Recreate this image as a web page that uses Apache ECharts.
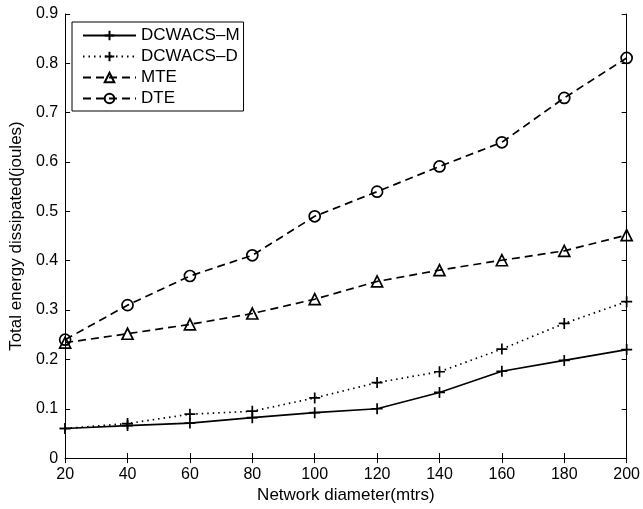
<!DOCTYPE html>
<html><head><meta charset="utf-8">
<script src="https://cdn.jsdelivr.net/npm/echarts@6/dist/echarts.min.js"></script>
<style>html,body{margin:0;padding:0;background:#fff}#c{width:643px;height:509px}</style>
</head><body><div id="c"></div>
<script>
const diameters = [20, 40, 60, 80, 100, 120, 140, 160, 180, 200];
const dcwacsM = [0.060, 0.066, 0.071, 0.082, 0.092, 0.100, 0.133, 0.176, 0.198, 0.220];
const dcwacsD = [0.060, 0.070, 0.089, 0.095, 0.122, 0.153, 0.175, 0.221, 0.273, 0.317];
const mte     = [0.234, 0.252, 0.271, 0.293, 0.322, 0.358, 0.381, 0.401, 0.420, 0.452];
const dte     = [0.240, 0.310, 0.369, 0.411, 0.490, 0.540, 0.591, 0.640, 0.730, 0.811];
const seriesNames = ['DCWACS\u2013M', 'DCWACS\u2013D', 'MTE', 'DTE'];
const xTitle = 'Network diameter(mtrs)';
const yTitle = 'Total energy dissipated(joules)';

const font = 'Liberation Sans, Arial, Helvetica, sans-serif';
const pair = arr => diameters.map((d, i) => [d, arr[i]]);
const plus = 'path://M5,0 L5,10 M0,5 L10,5';
function mk(name, data, type, symbol, size) {
  return {
    name, type: 'line', data: pair(data), symbol, symbolSize: size,
    lineStyle: { color: '#000', width: 1.7, type: type === 'dotted' ? [1.5, 4] : (type === 'dashed' ? [8, 5] : 'solid') },
    itemStyle: { color: 'rgba(0,0,0,0)', borderColor: '#000', borderWidth: 1.7 },
    emphasis: { disabled: true }, animation: false, z: 3
  };
}
const chart = echarts.init(document.getElementById('c'), null, { renderer: 'canvas' });
const axisCommon = {
  type: 'value',
  axisLine: { show: true, lineStyle: { color: '#000', width: 1 } },
  axisTick: { show: true, inside: true, length: 5, lineStyle: { color: '#000' } },
  splitLine: { show: false },
  axisLabel: { color: '#000', fontSize: 16, fontFamily: font }
};
chart.setOption({
  backgroundColor: '#fff',
  animation: false,
  grid: { left: 64, right: 15, top: 14, bottom: 50 },
  legend: {
    left: 72, top: 22, orient: 'vertical',
    data: seriesNames,
    itemWidth: 53, itemHeight: 12, itemGap: 4,
    backgroundColor: '#fff', borderColor: '#000', borderWidth: 1,
    padding: [5, 4, 4, 10],
    textStyle: { color: '#000', fontSize: 17, fontFamily: font },
    selectedMode: false
  },
  xAxis: [
    Object.assign({}, axisCommon, { min: 20, max: 200, interval: 20, position: 'bottom',
      name: xTitle, nameLocation: 'middle', nameGap: 28,
      nameTextStyle: { color: '#000', fontSize: 17, fontFamily: font },
      axisLabel: Object.assign({}, axisCommon.axisLabel, { margin: 8 }) }),
    Object.assign({}, axisCommon, { min: 20, max: 200, interval: 20, position: 'top', axisLabel: { show: false } })
  ],
  yAxis: [
    Object.assign({}, axisCommon, { min: 0, max: 0.9, interval: 0.1, position: 'left',
      name: yTitle, nameLocation: 'middle', nameGap: 37,
      nameTextStyle: { color: '#000', fontSize: 17, fontFamily: font },
      axisLabel: Object.assign({}, axisCommon.axisLabel, { margin: 7, formatter: v => (Math.round(v * 10) / 10).toString() }) }),
    Object.assign({}, axisCommon, { min: 0, max: 0.9, interval: 0.1, position: 'right', axisLabel: { show: false } })
  ],
  series: [
    mk(seriesNames[0], dcwacsM, 'solid', plus, 11),
    mk(seriesNames[1], dcwacsD, 'dotted', plus, 11),
    mk(seriesNames[2], mte, 'dashed', 'triangle', 11),
    mk(seriesNames[3], dte, 'dashed', 'circle', 11)
  ]
});
</script></body></html>
